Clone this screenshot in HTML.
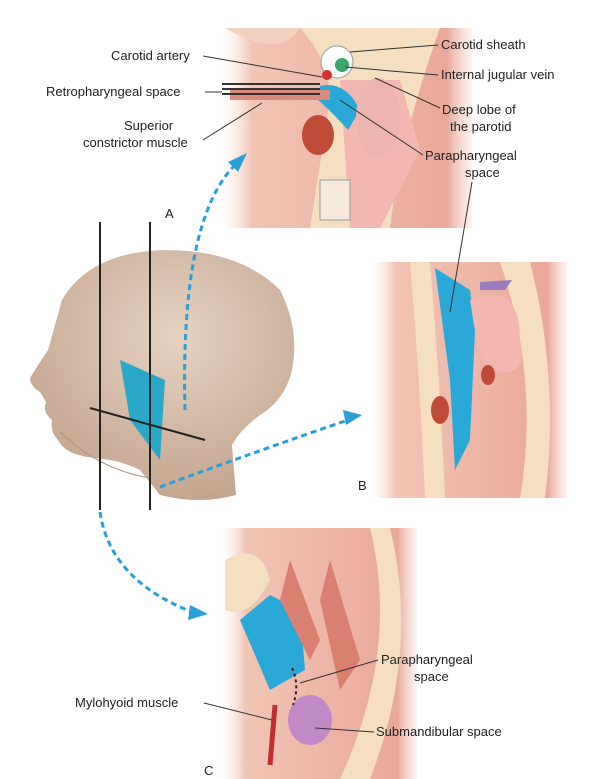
<!DOCTYPE html>
<html><head><meta charset="utf-8"><style>
html,body{margin:0;padding:0;background:#fff;}
svg{display:block;font-family:"Liberation Sans",Arial,sans-serif;}
text{font-size:13px;fill:#222;}
</style></head><body>
<svg width="602" height="779" viewBox="0 0 602 779" xmlns="http://www.w3.org/2000/svg">
<defs>
<linearGradient id="pa" x1="0" x2="1"><stop offset="0" stop-color="#fbe6dc" stop-opacity="0"/><stop offset="0.12" stop-color="#f1c5b5"/><stop offset="0.9" stop-color="#e9a899"/><stop offset="1" stop-color="#f5d5c9" stop-opacity="0.3"/></linearGradient>
<radialGradient id="skin" cx="0.55" cy="0.35" r="0.65"><stop offset="0" stop-color="#e6d2c0"/><stop offset="1" stop-color="#c4a690"/></radialGradient>
</defs>

<!-- Panel A -->
<rect x="222" y="28" width="250" height="200" fill="url(#pa)"/>
<path d="M300 28 Q330 60 330 100 L310 228 L390 228 Q400 140 440 28 Z" fill="#f5dfc0"/>
<path d="M340 80 L400 80 L420 150 L380 228 L350 228 Z" fill="#f2b8b0"/>
<path d="M320 86 Q345 80 360 110 L348 130 Q330 110 318 100 Z" fill="#2aa8d8"/>
<path d="M230 90 L330 90 L330 100 L230 100 Z" fill="#d98a7a"/>
<ellipse cx="318" cy="135" rx="16" ry="20" fill="#c04a38"/>
<ellipse cx="378" cy="118" rx="22" ry="40" fill="#ecb5ae"/>
<circle cx="337" cy="62" r="16" fill="#fff" stroke="#999"/>
<circle cx="342" cy="65" r="7" fill="#3aa86a"/>
<circle cx="327" cy="75" r="5" fill="#d03030"/>
<path d="M320 180 h30 v40 h-30z" fill="#f6eadc" stroke="#999"/>
<path d="M225 28 Q280 60 300 28" fill="#f4d2c0"/>
<line x1="222" y1="84" x2="320" y2="84" stroke="#333" stroke-width="2"/>
<line x1="222" y1="89" x2="320" y2="89" stroke="#333" stroke-width="2"/>
<line x1="222" y1="94" x2="320" y2="94" stroke="#333" stroke-width="2"/>
<text x="111" y="60">Carotid artery</text>
<line x1="203" y1="56" x2="322" y2="77" stroke="#333"/>
<text x="46" y="96">Retropharyngeal space</text>
<line x1="205" y1="92" x2="222" y2="92" stroke="#333"/>
<text x="124" y="130">Superior</text>
<text x="83" y="147">constrictor muscle</text>
<line x1="203" y1="140" x2="262" y2="103" stroke="#333"/>
<text x="441" y="49">Carotid sheath</text>
<line x1="438" y1="45" x2="350" y2="52" stroke="#333"/>
<text x="441" y="79">Internal jugular vein</text>
<line x1="438" y1="75" x2="345" y2="67" stroke="#333"/>
<text x="442" y="114">Deep lobe of</text>
<text x="450" y="131">the parotid</text>
<line x1="440" y1="108" x2="375" y2="78" stroke="#333"/>
<text x="425" y="160">Parapharyngeal</text>
<text x="465" y="177">space</text>
<line x1="423" y1="155" x2="340" y2="100" stroke="#333"/>
<text x="165" y="218" font-size="14">A</text>

<!-- Panel B -->
<rect x="372" y="262" width="195" height="236" fill="url(#pa)"/>
<path d="M500 262 Q540 380 520 498 L545 498 Q560 380 530 262Z" fill="#f5dfc0"/>
<path d="M410 262 Q420 380 425 498 L445 498 Q440 380 430 262Z" fill="#f5dfc0"/>
<path d="M435 268 L470 290 L475 330 L470 440 L455 470 L450 380 Z" fill="#2aa8d8"/>
<path d="M470 300 Q520 280 520 340 Q530 380 490 370 L478 350Z" fill="#f2b8b0"/>
<ellipse cx="488" cy="375" rx="7" ry="10" fill="#c04a38"/>
<ellipse cx="440" cy="410" rx="9" ry="14" fill="#c04a38"/>
<path d="M480 282 L512 280 L505 290 L480 290Z" fill="#9c7cc0"/>
<text x="358" y="490" font-size="14">B</text>
<line x1="472" y1="182" x2="450" y2="312" stroke="#333"/>

<!-- Panel C -->
<rect x="222" y="528" width="195" height="251" fill="url(#pa)"/>
<path d="M370 528 Q400 650 340 779 L370 779 Q420 650 390 528Z" fill="#f5dfc0"/>
<path d="M225 560 Q260 540 270 580 Q250 620 225 610Z" fill="#f5dfc0"/>
<path d="M240 620 L270 595 L300 610 L305 670 L270 690 Z" fill="#2aa8d8"/>
<path d="M290 560 L320 640 L310 660 L280 600Z" fill="#d98070"/>
<path d="M330 560 L360 660 L340 690 L320 600Z" fill="#d98070"/>
<ellipse cx="310" cy="720" rx="22" ry="25" fill="#c08ac8"/>
<line x1="275" y1="705" x2="270" y2="765" stroke="#c03030" stroke-width="5"/>
<path d="M292 668 Q300 685 293 705" stroke="#222" stroke-width="2" stroke-dasharray="3 3" fill="none"/>
<text x="381" y="664">Parapharyngeal</text>
<text x="414" y="681">space</text>
<line x1="378" y1="660" x2="300" y2="683" stroke="#333"/>
<text x="75" y="707">Mylohyoid muscle</text>
<line x1="204" y1="703" x2="272" y2="720" stroke="#333"/>
<text x="376" y="736">Submandibular space</text>
<line x1="374" y1="732" x2="315" y2="728" stroke="#333"/>
<text x="204" y="775" font-size="14">C</text>

<!-- Head -->
<path d="M62 300 Q90 252 165 250 Q240 250 280 290 Q300 330 292 370 Q285 400 260 415 Q240 430 232 445 L236 495 Q200 505 160 495 L140 470 Q120 460 95 458 Q65 455 58 440 Q50 432 52 420 Q42 412 46 402 L40 392 Q30 386 30 378 Q38 365 48 350 Q55 325 62 300 Z" fill="url(#skin)"/>
<path d="M60 432 Q100 470 150 478" fill="none" stroke="#b09580"/>
<path d="M120 360 L165 380 L160 460 L130 420 Z" fill="#2aa8c8"/>
<line x1="100" y1="222" x2="100" y2="510" stroke="#222" stroke-width="2"/>
<line x1="150" y1="222" x2="150" y2="510" stroke="#222" stroke-width="2"/>
<line x1="90" y1="408" x2="205" y2="440" stroke="#222" stroke-width="2"/>

<!-- dashed arrows -->
<g stroke="#2a9fd8" stroke-width="3" stroke-dasharray="6 4" fill="none">
<path d="M185 410 Q180 220 235 165"/>
<path d="M160 487 Q260 450 348 420"/>
<path d="M100 512 Q110 580 192 612"/>
</g>
<g fill="#2a9fd8">
<polygon points="247,153 228,162 238,172"/>
<polygon points="362,415 343,410 346,425"/>
<polygon points="208,614 190,605 188,620"/>
</g>
</svg>
</body></html>
